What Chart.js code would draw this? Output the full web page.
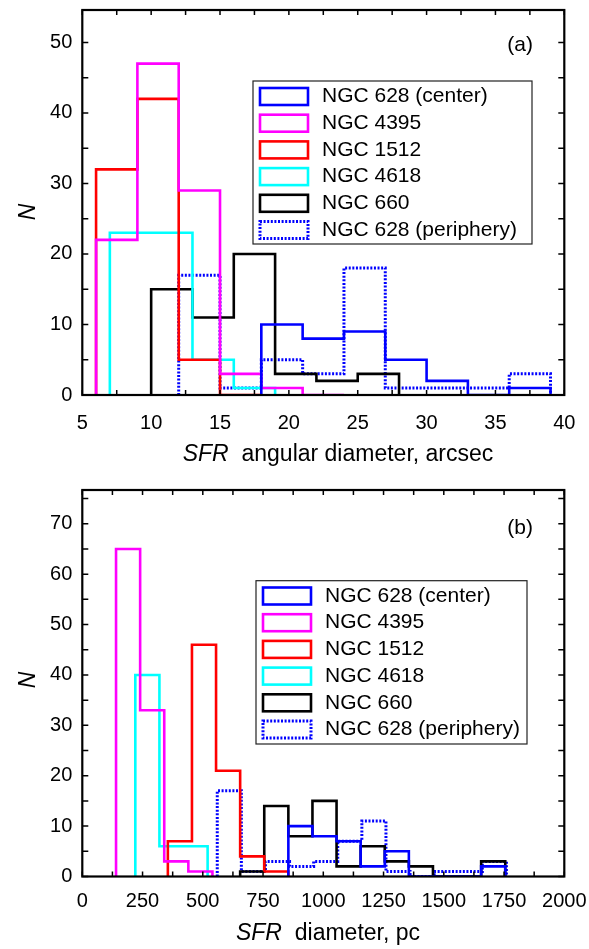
<!DOCTYPE html>
<html>
<head>
<meta charset="utf-8">
<script src="https://cdn.jsdelivr.net/npm/chart.js@4.4.1/dist/chart.umd.min.js"></script>
<style>
html, body { margin: 0; padding: 0; background: #fff; }
canvas { display: block; }
</style>
</head>
<body>
<canvas id="angular" width="589" height="474"></canvas>
<canvas id="linear" width="589" height="475"></canvas>
<script>
var galaxyNames = ["NGC 628 (center)", "NGC 4395", "NGC 1512", "NGC 4618", "NGC 660", "NGC 628 (periphery)"];
var galaxyColors = ["#0000ff", "#ff00ff", "#ff0000", "#00ffff", "#000000", "#0000ff"];

// (a) angular diameter, arcsec: bin edges and counts per galaxy
var angEdges628c = [18, 21, 24, 27, 30, 33, 36, 39];
var angCounts628c = [10, 8, 9, 5, 2, 0, 1];
var angEdges4395 = [6, 9, 12, 15, 18, 21, 24];
var angCounts4395 = [22, 47, 29, 3, 1, 0];
var angEdges1512 = [6, 9, 12, 15, 18];
var angCounts1512 = [32, 42, 5, 0];
var angEdges4618 = [7, 10, 13, 16, 19];
var angCounts4618 = [23, 23, 5, 1];
var angEdges660 = [10, 13, 16, 19, 22, 25, 28];
var angCounts660 = [15, 11, 20, 3, 2, 3];
var angEdges628p = [12, 15, 18, 21, 24, 27, 30, 33, 36, 39];
var angCounts628p = [17, 1, 5, 3, 18, 1, 1, 1, 3];

// (b) linear diameter, pc
var pcEdges628c = [855, 955, 1055, 1155, 1255, 1355, 1455, 1555, 1655, 1755];
var pcCounts628c = [10, 8, 7, 2, 5, 0, 0, 0, 2];
var pcEdges4395 = [140, 240, 340, 440, 540];
var pcCounts4395 = [65, 33, 3, 1];
var pcEdges1512 = [355, 455, 555, 655, 755, 855];
var pcCounts1512 = [7, 46, 21, 4, 1];
var pcEdges4618 = [220, 320, 420, 520];
var pcCounts4618 = [40, 6, 6];
var pcEdges660 = [655, 755, 855, 955, 1055, 1155, 1255, 1355, 1455, 1555, 1655, 1755];
var pcCounts660 = [1, 14, 8, 15, 2, 6, 3, 2, 0, 0, 3];
var pcEdges628p = [560, 660, 760, 860, 960, 1060, 1160, 1260, 1360, 1460, 1560, 1660, 1760];
var pcCounts628p = [17, 1, 3, 2, 3, 7, 11, 1, 0, 1, 1, 3];

var FONT = "'Liberation Sans', Arial, sans-serif";

// step outline of a histogram (no inner verticals)
function outline(edges, counts) {
    var pts = [{x: edges[0], y: 0}];
    for (var i = 0; i < counts.length; i++) {
        pts.push({x: edges[i], y: counts[i]});
        pts.push({x: edges[i + 1], y: counts[i]});
    }
    pts.push({x: edges[edges.length - 1], y: 0});
    return pts;
}

function makeDatasets(edgeSets, countSets) {
    return edgeSets.map(function(edges, i) {
        return {
            label: galaxyNames[i],
            data: outline(edges, countSets[i]),
            borderColor: galaxyColors[i],
            borderWidth: i === 5 ? 3 : 2.6,
            borderDash: i === 5 ? [2, 1.6] : [],
            borderJoinStyle: "miter",
            pointRadius: 0,
            tension: 0,
            fill: false
        };
    });
}

// box, inward ticks, legend and titles
var framePlugin = {
    id: "frame",
    afterDatasetsDraw: function(chart, args, opts) {
        var ctx = chart.ctx, a = chart.chartArea;
        var xs = chart.scales.x, ys = chart.scales.y;
        var v, p;
        ctx.save();
        ctx.strokeStyle = "#000";
        ctx.lineWidth = 1.5;
        ctx.beginPath();
        for (v = xs.min; v <= xs.max + 1e-9; v += opts.xStep) {
            p = xs.getPixelForValue(v);
            ctx.moveTo(p, a.bottom); ctx.lineTo(p, a.bottom - 5);
            ctx.moveTo(p, a.top); ctx.lineTo(p, a.top + 5);
        }
        for (v = 0; v <= ys.max + 1e-9; v += opts.yStep) {
            p = ys.getPixelForValue(v);
            ctx.moveTo(a.left, p); ctx.lineTo(a.left + 6, p);
            ctx.moveTo(a.right, p); ctx.lineTo(a.right - 6, p);
        }
        ctx.stroke();
        ctx.lineWidth = 2.2;
        ctx.strokeRect(a.left, a.top, a.right - a.left, a.bottom - a.top);

        // legend
        var lg = opts.legend;
        ctx.fillStyle = "#fff";
        ctx.fillRect(lg.x, lg.y, lg.w, lg.h);
        ctx.lineWidth = 1.2;
        ctx.strokeStyle = "#222";
        ctx.strokeRect(lg.x, lg.y, lg.w, lg.h);
        ctx.font = "21px " + FONT;
        ctx.textBaseline = "middle";
        ctx.textAlign = "left";
        chart.data.datasets.forEach(function(ds, i) {
            var cy = lg.y + lg.first + i * lg.row;
            ctx.strokeStyle = ds.borderColor;
            ctx.lineWidth = ds.borderWidth;
            ctx.setLineDash(ds.borderDash);
            ctx.strokeRect(lg.x + 7, cy - 8.5, 48, 17);
            ctx.setLineDash([]);
            ctx.fillStyle = "#000";
            ctx.fillText(ds.label, lg.x + 69, cy);
        });

        // panel tag
        ctx.textAlign = "right";
        ctx.fillText(opts.tag, 533, opts.tagY);

        // axis titles
        ctx.font = "italic 23px " + FONT;
        var lead = "SFR";
        var rest = "  " + opts.xTitle;
        var w1 = ctx.measureText(lead).width;
        ctx.font = "23px " + FONT;
        var w2 = ctx.measureText(rest).width;
        var x0 = opts.xTitleX - (w1 + w2) / 2;
        ctx.textAlign = "left";
        ctx.font = "italic 23px " + FONT;
        ctx.fillText(lead, x0, opts.xTitleY);
        ctx.font = "23px " + FONT;
        ctx.fillText(rest, x0 + w1, opts.xTitleY);

        ctx.translate(29, opts.yTitleY);
        ctx.rotate(-Math.PI / 2);
        ctx.textAlign = "center";
        ctx.font = "italic 23px " + FONT;
        ctx.fillText("N", 0, 0);
        ctx.restore();
    }
};

function makeChart(id, datasets, cfg) {
    return new Chart(document.getElementById(id), {
        type: "line",
        data: {datasets: datasets},
        plugins: [framePlugin],
        options: {
            responsive: false,
            animation: false,
            devicePixelRatio: 1,
            layout: {padding: {top: cfg.top, right: 24.7, left: 0, bottom: 0}},
            plugins: {
                legend: {display: false},
                tooltip: {enabled: false},
                frame: cfg.frame
            },
            scales: {
                x: {
                    type: "linear",
                    min: cfg.xMin, max: cfg.xMax,
                    grid: {display: false, drawTicks: false},
                    border: {display: false},
                    ticks: {stepSize: cfg.xLabelStep, padding: cfg.xPad, color: "#000", maxRotation: 0,
                        font: {family: FONT, size: 20},
                        callback: function(v) { return String(v); }},
                    afterFit: function(s) {
                        s.height = cfg.xAxisH;
                        s.paddingLeft = 0; s.paddingRight = 0;
                    }
                },
                y: {
                    type: "linear",
                    min: 0, max: cfg.yMax,
                    grid: {display: false, drawTicks: false},
                    border: {display: false},
                    ticks: {stepSize: 10, padding: 10, color: "#000",
                        font: {family: FONT, size: 20},
                        callback: function(v) { return String(v); }},
                    afterBuildTicks: function(s) {
                        s.ticks = s.ticks.filter(function(t) { return t.value % 10 === 0; });
                    },
                    afterFit: function(s) {
                        s.width = 82.3;
                        s.paddingTop = 0; s.paddingBottom = 0;
                    }
                }
            }
        }
    });
}

makeChart("angular",
    makeDatasets(
        [angEdges628c, angEdges4395, angEdges1512, angEdges4618, angEdges660, angEdges628p],
        [angCounts628c, angCounts4395, angCounts1512, angCounts4618, angCounts660, angCounts628p]),
    {
        top: 10, xAxisH: 79, xPad: 16, xMin: 5, xMax: 40, xLabelStep: 5, yMax: 54.6,
        frame: {
            xStep: 2.5, yStep: 5, tag: "(a)", tagY: 45,
            xTitle: "angular diameter, arcsec", xTitleX: 338, xTitleY: 455, yTitleY: 212,
            legend: {x: 253, y: 81, w: 279, h: 163, first: 15.5, row: 26.7}
        }
    });

makeChart("linear",
    makeDatasets(
        [pcEdges628c, pcEdges4395, pcEdges1512, pcEdges4618, pcEdges660, pcEdges628p],
        [pcCounts628c, pcCounts4395, pcCounts1512, pcCounts4618, pcCounts660, pcCounts628p]),
    {
        top: 16, xAxisH: 72.5, xPad: 13, xMin: 0, xMax: 2000, xLabelStep: 250, yMax: 76.7,
        frame: {
            xStep: 125, yStep: 5, tag: "(b)", tagY: 54,
            xTitle: "diameter, pc", xTitleX: 328, xTitleY: 460, yTitleY: 206,
            legend: {x: 256, y: 106.7, w: 271, h: 163.3, first: 15.3, row: 26.7}
        }
    });
</script>
</body>
</html>
